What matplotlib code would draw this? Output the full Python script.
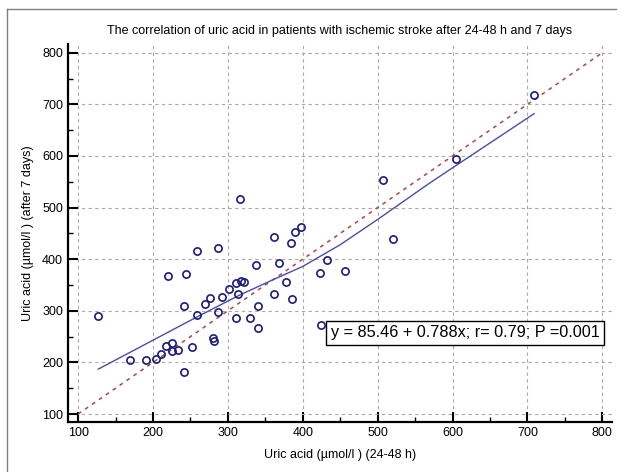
import matplotlib
matplotlib.use("Agg")
import matplotlib.pyplot as plt
from matplotlib.lines import Line2D
from matplotlib.ticker import MultipleLocator

plt.rcParams['font.family'] = ['Liberation Sans', 'DejaVu Sans']

# Uric acid (umol/l), 24-48 h vs after 7 days
uric_48h = [127, 169, 190, 204, 211, 217, 226, 225, 233, 241, 220, 244, 241, 252,
            259, 259, 269, 276, 287, 287, 292, 280, 281, 302, 311, 311, 314, 318,
            322, 316, 330, 337, 340, 340, 362, 362, 368, 378, 384, 385, 390, 398,
            423, 424, 432, 456, 507, 521, 605, 709]
uric_7d = [289, 204, 205, 207, 216, 231, 238, 222, 224, 181, 368, 372, 309, 230,
           416, 292, 313, 325, 422, 298, 327, 247, 241, 342, 287, 353, 333, 357,
           355, 516, 287, 388, 310, 266, 443, 333, 392, 355, 432, 323, 452, 463,
           373, 272, 398, 377, 553, 440, 594, 719]

# smoothed fit line
fit_x = [127, 200, 260, 315, 360, 400, 450, 500, 568, 600, 709]
fit_y = [187, 243, 289, 330, 360, 386, 428, 477, 546, 577, 682]

# identity line
ident = [100, 800]

fig = plt.figure(figsize=(6.27, 4.72), dpi=100)
ax = fig.add_axes([68/627, 1-422/472, (612-68)/627, (422-44)/472])

ax.plot(ident, ident, color='#a84848', lw=1.1, ls=(0, (2.5, 3)), zorder=2)
ax.plot(fit_x, fit_y, color='#4c4ca8', lw=1.0, zorder=3)
ax.plot(uric_48h, uric_7d, 'o', ms=5.2, mfc='none', mec='#1c1c7c', mew=1.2, zorder=4)

ax.set_xlim(86.5, 813)
ax.set_ylim(84.5, 817)
ax.xaxis.set_major_locator(MultipleLocator(100))
ax.yaxis.set_major_locator(MultipleLocator(100))
ax.xaxis.set_minor_locator(MultipleLocator(50))
ax.yaxis.set_minor_locator(MultipleLocator(50))
ax.grid(True, which='major', color='#a8a8a8', ls=(0, (3, 3)), lw=0.8)
ax.set_axisbelow(True)

for s in ['top', 'right']:
    ax.spines[s].set_visible(False)
for s in ['left', 'bottom']:
    ax.spines[s].set_linewidth(1.6)
ax.tick_params(which='major', direction='in', length=7.5, width=1.5, labelsize=9, pad=3.5)
ax.tick_params(which='minor', direction='in', length=3.5, width=1.0)

ax.text(617, 257, "y = 85.46 + 0.788x; r= 0.79; P =0.001", fontsize=11.7,
        ha='center', va='center',
        bbox=dict(boxstyle='square,pad=0.3', fc='white', ec='black', lw=1))

fig.text(340/627, 1-31/472, "The correlation of uric acid in patients with ischemic stroke after 24-48 h and 7 days",
         ha='center', va='center', fontsize=9)
fig.text(340/627, 1-455/472, "Uric acid (µmol/l ) (24-48 h)", ha='center', va='center', fontsize=9)
fig.text(28/627, 1-233/472, "Uric acid (µmol/l ) (after 7 days)", ha='center', va='center',
         rotation=90, fontsize=9)

# frame round the figure
fig.add_artist(Line2D([7/627, 616/627], [1-9/472, 1-9/472], color='#808080', lw=1))
fig.add_artist(Line2D([7/627, 7/627], [1-9/472, 0], color='#808080', lw=1))

fig.savefig("out.png", dpi=100)
